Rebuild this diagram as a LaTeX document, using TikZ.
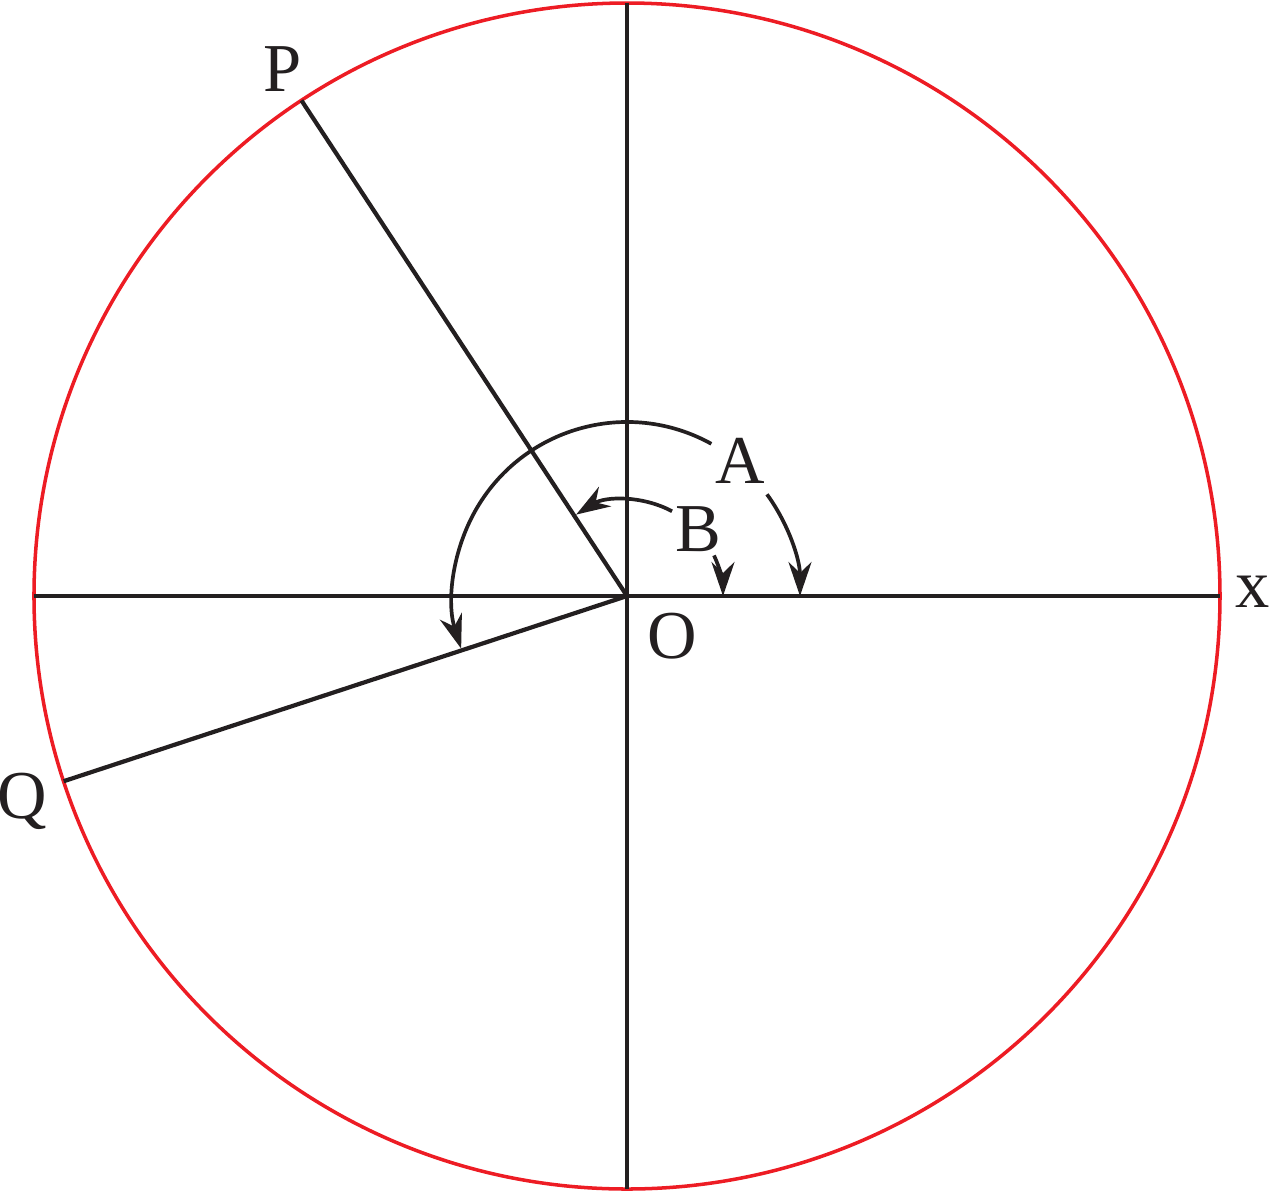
\documentclass[tikz,border=0pt]{standalone}
\usepackage{fontspec}
\setmainfont{Liberation Serif}
\usetikzlibrary{arrows.meta}
\definecolor{rimred}{RGB}{237,28,36}
\definecolor{inkblack}{RGB}{35,31,32}

\begin{document}
\begin{tikzpicture}[
      rim/.style={
         draw=rimred,
         line width=1.0pt
      },
      ray/.style={
         draw=inkblack,
         line width=1.2pt
      },
      turn/.style={
         draw=inkblack,
         line width=1.05pt,
         -{Stealth[length=3.4mm,width=2.3mm,inset=1.1mm]}
      },
      letter/.style={
         text=inkblack,
         inner sep=0pt,
         font=\fontsize{19.5}{20}\selectfont
      },
    ]
    \useasboundingbox (-6.27,-5.95) rectangle (6.43,5.96);
    % centre, rim points
    \coordinate (O) at (0,0);
    \coordinate (east) at (0:5.93);
    \coordinate (west) at (180:5.93);
    \coordinate (north) at (90:5.93);
    \coordinate (south) at (270:5.93);
    \coordinate (P) at (123.3:5.93);
    \coordinate (Q) at (198.2:5.93);
    % start points of the angle arcs
    \coordinate (a1) at (61:1.74);
    \coordinate (a2) at (36:1.73);
    \coordinate (b1) at (62:0.96);
    \coordinate (b2) at (25:0.96);

    \draw[rim] (O) circle (5.93);
    \draw[ray] (west) -- (east);
    \draw[ray] (south) -- (north);
    \draw[ray] (O) -- (P);
    \draw[ray] (O) -- (Q);

    \draw[turn] (a1) arc (61:197.6:1.74);
    \draw[turn] (a2) arc (36:0:1.73);
    \draw[turn] (b1) arc (62:122:0.96);
    \draw[turn] (b2) arc (25:0:0.96);

    \node (lP) [letter] at (-3.44,5.27) {P};
    \node (lQ) [letter] at (-6.05,-2.05) {Q};
    \node (lx) [letter] at (6.26,0.045) {x};
    \node (lO) [letter] at (0.45,-0.40) {O};
    \node (lA) [letter] at (1.135,1.355) {A};
    \node (lB) [letter] at (0.71,0.67) {B};
\end{tikzpicture}
\end{document}
